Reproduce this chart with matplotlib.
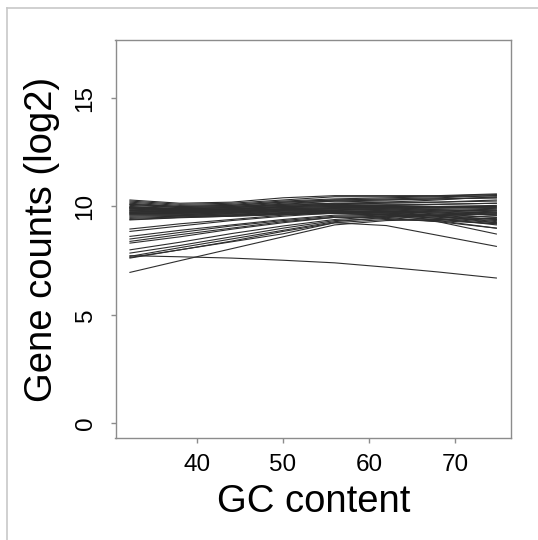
import matplotlib
matplotlib.use("Agg")
import matplotlib.pyplot as plt
from matplotlib.lines import Line2D

plt.rcParams['font.family'] = ['Liberation Sans', 'DejaVu Sans']

# GC content positions where each sample's smoothed curve was read
gc_content = [32.2, 38, 44, 50, 56, 62, 68, 74.8]

# main bundle of samples (log2 gene counts)
main_samples = [
    [10.30, 10.15, 10.20, 10.40, 10.50, 10.50, 10.50, 10.58],
    [10.25, 10.10, 10.15, 10.30, 10.45, 10.45, 10.48, 10.55],
    [10.20, 10.05, 10.10, 10.25, 10.35, 10.40, 10.45, 10.50],
    [10.15, 10.00, 10.05, 10.20, 10.30, 10.30, 10.35, 10.40],
    [10.10, 9.95, 10.00, 10.15, 10.25, 10.20, 10.20, 10.25],
    [10.05, 9.95, 10.00, 10.10, 10.15, 10.10, 10.10, 10.15],
    [10.00, 9.90, 9.95, 10.05, 10.15, 10.20, 10.30, 10.45],
    [9.98, 9.90, 9.95, 10.05, 10.10, 10.05, 10.00, 10.00],
    [9.95, 9.85, 9.90, 10.00, 10.10, 10.15, 10.20, 10.30],
    [9.92, 9.85, 9.90, 10.00, 10.05, 10.00, 9.95, 9.90],
    [9.90, 9.82, 9.88, 9.98, 10.05, 10.05, 10.10, 10.15],
    [9.88, 9.80, 9.85, 9.95, 10.00, 9.95, 9.85, 9.75],
    [9.85, 9.80, 9.85, 9.95, 10.00, 10.00, 10.00, 10.05],
    [9.82, 9.78, 9.82, 9.90, 9.95, 9.90, 9.80, 9.70],
    [9.80, 9.75, 9.80, 9.90, 9.95, 9.95, 9.95, 9.95],
    [9.78, 9.75, 9.80, 9.88, 9.90, 9.85, 9.75, 9.60],
    [9.75, 9.72, 9.78, 9.85, 9.90, 9.90, 9.90, 9.85],
    [9.72, 9.70, 9.75, 9.85, 9.88, 9.80, 9.65, 9.50],
    [9.70, 9.70, 9.75, 9.82, 9.85, 9.85, 9.85, 9.80],
    [9.68, 9.68, 9.72, 9.80, 9.82, 9.75, 9.60, 9.40],
    [9.65, 9.65, 9.70, 9.78, 9.80, 9.78, 9.75, 9.70],
    [9.62, 9.62, 9.68, 9.75, 9.78, 9.70, 9.55, 9.30],
    [9.60, 9.60, 9.65, 9.72, 9.78, 9.75, 9.70, 9.60],
    [9.55, 9.58, 9.62, 9.70, 9.72, 9.65, 9.45, 9.15],
    [9.50, 9.55, 9.60, 9.68, 9.75, 9.70, 9.60, 9.50],
    [9.45, 9.52, 9.58, 9.65, 9.70, 9.60, 9.35, 9.00],
    [9.40, 9.50, 9.55, 9.62, 9.68, 9.62, 9.50, 9.35],
    [9.38, 9.48, 9.55, 9.65, 9.72, 9.70, 9.55, 9.25],
    [10.10, 10.00, 10.05, 10.20, 10.30, 10.35, 10.40, 10.50],
    [9.95, 9.88, 9.95, 10.10, 10.25, 10.30, 10.35, 10.40],
]

# samples starting low that rise into the bundle
rising_samples = [
    [8.96, 9.20, 9.40, 9.60, 9.75, 9.80, 9.80, 9.80],
    [8.85, 9.10, 9.35, 9.55, 9.70, 9.75, 9.70, 9.60],
    [8.62, 8.90, 9.15, 9.40, 9.60, 9.65, 9.55, 9.40],
    [8.50, 8.80, 9.10, 9.35, 9.55, 9.60, 9.45, 9.25],
    [8.39, 8.70, 9.00, 9.30, 9.50, 9.50, 9.30, 9.00],
    [8.31, 8.60, 8.95, 9.25, 9.50, 9.55, 9.40, 9.20],
    [8.00, 8.35, 8.75, 9.10, 9.40, 9.55, 9.60, 9.65],
    [7.85, 8.20, 8.60, 9.00, 9.35, 9.45, 9.30, 8.73],
    [7.70, 8.10, 8.50, 8.90, 9.30, 9.50, 9.60, 9.70],
    [7.62, 8.00, 8.40, 8.85, 9.25, 9.40, 9.35, 9.20],
]

# the few clearly separate samples
outlier_samples = [
    [6.96, 7.50, 8.05, 8.60, 9.15, 9.35, 9.40, 9.45],
    [7.73, 7.68, 7.62, 7.52, 7.40, 7.20, 6.98, 6.70],
    [7.65, 8.00, 8.37, 8.74, 9.25, 9.12, 8.67, 8.16],
]

x_ticks = [40, 50, 60, 70]
y_ticks = [0, 5, 10, 15]

W, H = 538, 540
fig = plt.figure(figsize=(W / 100, H / 100), dpi=100)
ax = fig.add_axes([115.5 / W, 1 - 438 / H, (511 - 115.5) / W, (438 - 40) / H])

for counts in main_samples + rising_samples + outlier_samples:
    ax.plot(gc_content, counts, color='#2e2e2e', lw=0.8)

ax.set_xlim(30.52, 76.5)
ax.set_ylim(-0.68, 17.68)
ax.set_xticks(x_ticks)
ax.set_yticks(y_ticks)

for sp in ax.spines.values():
    sp.set_color('#8c8c8c')
    sp.set_linewidth(1.0)

ax.tick_params(axis='both', length=3.6, width=1.0, color='#8c8c8c',
               labelcolor='black', labelsize=17.5)
ax.tick_params(axis='x', pad=8)
ax.tick_params(axis='y', pad=10, labelrotation=90)
for lab in ax.get_yticklabels():
    lab.set_verticalalignment('center')

ax.set_xlabel('GC content', fontsize=27.5, va='baseline')
ax.xaxis.set_label_coords(0.5, -(512 - 438) / 398)
ax.set_ylabel('Gene counts (log2)', fontsize=27.5, va='baseline')
ax.yaxis.set_label_coords(-(115.5 - 52) / 395.5, 0.5)

# light screenshot frame along top and left
fig.add_artist(Line2D([7 / W, 7 / W], [0, 1 - 8 / H], transform=fig.transFigure,
                      color='#c8c8c8', lw=1.2))
fig.add_artist(Line2D([7 / W, 1], [1 - 8 / H, 1 - 8 / H], transform=fig.transFigure,
                      color='#c8c8c8', lw=1.2))

fig.savefig('out.png', dpi=100)
